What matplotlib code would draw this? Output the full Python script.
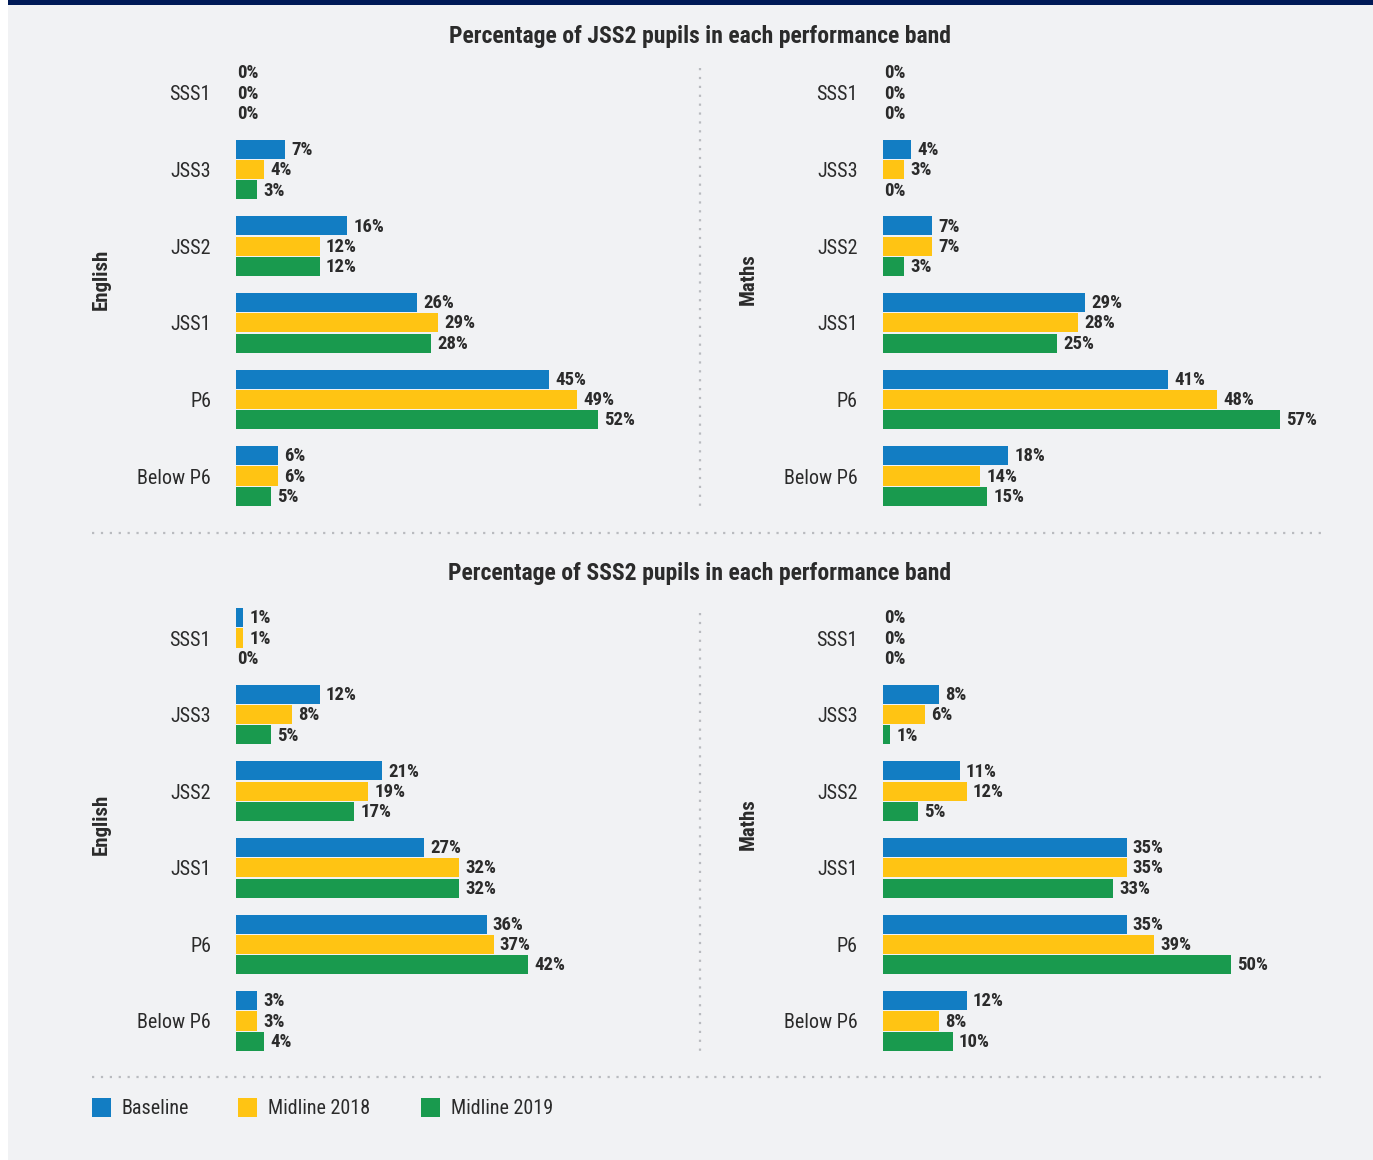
import matplotlib
matplotlib.use("Agg")
import matplotlib.pyplot as plt
from matplotlib.patches import Rectangle
from matplotlib.lines import Line2D

# ---- data ----
bands = ["Below P6", "P6", "JSS1", "JSS2", "JSS3", "SSS1"]
series_names = ["Baseline", "Midline 2018", "Midline 2019"]

jss2_english_baseline = [6, 45, 26, 16, 7, 0]
jss2_english_mid2018 = [6, 49, 29, 12, 4, 0]
jss2_english_mid2019 = [5, 52, 28, 12, 3, 0]

jss2_maths_baseline = [18, 41, 29, 7, 4, 0]
jss2_maths_mid2018 = [14, 48, 28, 7, 3, 0]
jss2_maths_mid2019 = [15, 57, 25, 3, 0, 0]

sss2_english_baseline = [3, 36, 27, 21, 12, 1]
sss2_english_mid2018 = [3, 37, 32, 19, 8, 1]
sss2_english_mid2019 = [4, 42, 32, 17, 5, 0]

sss2_maths_baseline = [12, 35, 35, 11, 8, 0]
sss2_maths_mid2018 = [8, 39, 35, 12, 6, 0]
sss2_maths_mid2019 = [10, 50, 33, 5, 1, 0]

titles = ["Percentage of JSS2 pupils in each performance band",
          "Percentage of SSS2 pupils in each performance band"]
subjects = ["English", "Maths"]

# ---- style ----
COLORS = ["#127DC3", "#FFC413", "#199A4E"]
BG = "#F1F2F4"
NAVY = "#001A57"
DOT = "#B9BBBF"
TXT = "#2B2B2B"
plt.rcParams["font.family"] = ["Roboto Condensed", "Liberation Sans", "DejaVu Sans"]

W, H = 1373, 1160
fig = plt.figure(figsize=(W / 100, H / 100), dpi=100, facecolor="white")


def fx(px):
    return px / W


def fy(py):
    return 1 - py / H


# background panels
fig.patches.append(Rectangle((fx(8), 0), 1 - fx(8), 1, transform=fig.transFigure,
                             facecolor=BG, edgecolor="none", zorder=-10))
fig.patches.append(Rectangle((fx(8), fy(5)), 1 - fx(8), fy(0) - fy(5),
                             transform=fig.transFigure, facecolor=NAVY,
                             edgecolor="none", zorder=-9))

PX_PER_PCT = 6.96
AX_W_PX = 440
GROUP_PX = 76.6
BAR_H = 0.25
OFFSET = 0.265


def panel(x0, top_center, values, subject, label_x):
    bottom_px = top_center + 5 * GROUP_PX + GROUP_PX / 2
    top_px = top_center - GROUP_PX / 2
    ax = fig.add_axes([fx(x0), fy(bottom_px), fx(AX_W_PX), (bottom_px - top_px) / H])
    ax.set_facecolor("none")
    ax.set_xlim(0, AX_W_PX / PX_PER_PCT)
    ax.set_ylim(-0.5, 5.5)
    ypos = list(range(len(bands)))
    for k, (vals, col) in enumerate(zip(values, COLORS)):
        ys = [y + OFFSET * (1 - k) for y in ypos]
        ax.barh(ys, vals, height=BAR_H, color=col, edgecolor="none")
        for y, v in zip(ys, vals):
            ax.annotate(f"{v}%", (v, y), xytext=(4.5 if v > 0 else 1, -0.5),
                        textcoords="offset points", va="center", ha="left",
                        fontsize=13.5, fontweight="bold", color=TXT)
    ax.set_yticks(ypos)
    ax.set_yticklabels(bands, fontsize=14.5, color=TXT)
    ax.tick_params(axis="y", length=0, pad=18)
    ax.set_xticks([])
    for s in ax.spines.values():
        s.set_visible(False)
    fig.text(fx(label_x), fy(top_center + 2.43 * GROUP_PX), subject, rotation=90,
             ha="center", va="center", fontsize=15, fontweight="bold", color=TXT)
    return ax


groups = [
    (93, [[jss2_english_baseline, jss2_english_mid2018, jss2_english_mid2019],
          [jss2_maths_baseline, jss2_maths_mid2018, jss2_maths_mid2019]]),
    (638, [[sss2_english_baseline, sss2_english_mid2018, sss2_english_mid2019],
           [sss2_maths_baseline, sss2_maths_mid2018, sss2_maths_mid2019]]),
]
title_y = [37, 574]

for gi, (top_center, (eng, mat)) in enumerate(groups):
    panel(236, top_center, eng, subjects[0], 101)
    panel(883, top_center, mat, subjects[1], 748)
    fig.text(fx(700), fy(title_y[gi]), titles[gi], ha="center", va="center",
             fontsize=17, fontweight="bold", color=TXT)
    # vertical dotted separator
    fig.add_artist(Line2D([fx(700), fx(700)], [fy(top_center - 25), fy(top_center + 413)],
                          transform=fig.transFigure, color=DOT, linestyle=(0, (1, 3)),
                          linewidth=1.6))

# horizontal dotted separators
for yy in (533, 1077):
    fig.add_artist(Line2D([fx(92), fx(1325)], [fy(yy), fy(yy)], transform=fig.transFigure,
                          color=DOT, linestyle=(0, (1, 3)), linewidth=1.6))

# legend
legend_x = [92, 238, 421]
for name, col, lx in zip(series_names, COLORS, legend_x):
    fig.patches.append(Rectangle((fx(lx), fy(1117)), fx(19), 19 / H,
                                 transform=fig.transFigure, facecolor=col,
                                 edgecolor="none"))
    fig.text(fx(lx + 30), fy(1109), name, ha="left", va="center",
             fontsize=14.5, color=TXT)

fig.savefig("out.png", dpi=100, facecolor=fig.get_facecolor())
